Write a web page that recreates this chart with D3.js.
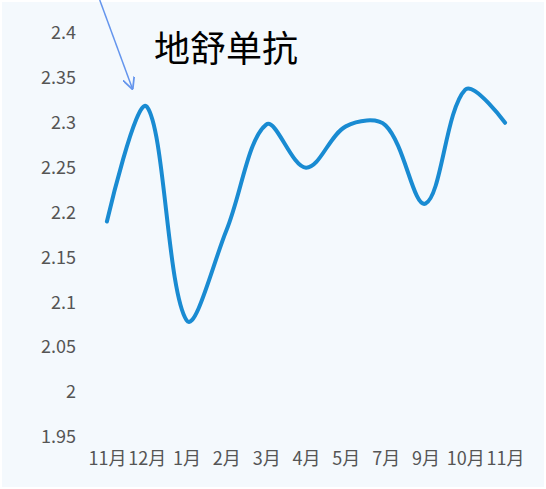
<!DOCTYPE html>
<html>
<head>
<meta charset="utf-8">
<script src="https://cdn.jsdelivr.net/npm/d3@7"></script>
<style>
  html, body { margin: 0; padding: 0; background: #fff; }
  svg { display: block; }
</style>
</head>
<body>
<div id="chart"></div>
<script>
const months = ["11月", "12月", "1月", "2月", "3月", "4月", "5月", "7月", "9月", "10月", "11月"];
const values = [2.19, 2.318, 2.08, 2.18, 2.298, 2.25, 2.296, 2.297, 2.21, 2.337, 2.30];
const yTicks = [1.95, 2, 2.05, 2.1, 2.15, 2.2, 2.25, 2.3, 2.35, 2.4];
const title = "地舒单抗";

const width = 546;
const height = 489;
const fontFamily = "'Noto Sans CJK SC', sans-serif";

const svg = d3.select("#chart")
  .append("svg")
  .attr("width", width)
  .attr("height", height);

svg.append("rect")
  .attr("x", 2)
  .attr("y", 2)
  .attr("width", width - 4)
  .attr("height", height - 4)
  .attr("fill", "#f4f9fd");

// index keys so the repeated "11月" stays two categories
const xScale = d3.scalePoint()
  .domain(d3.range(months.length))
  .range([87, 525])
  .padding(0.5);

const yScale = d3.scaleLinear()
  .domain([1.95, 2.4])
  .range([437, 33]);

const yAxis = svg.append("g")
  .attr("transform", "translate(76,0)")
  .call(d3.axisLeft(yScale).tickValues(yTicks).tickSize(0).tickPadding(0).tickFormat(d3.format("")));
yAxis.select(".domain").remove();
yAxis.selectAll("text")
  .attr("fill", "#555")
  .style("font-size", "18px")
  .style("font-family", fontFamily);

const xAxis = svg.append("g")
  .attr("transform", "translate(0,452)")
  .call(d3.axisBottom(xScale).tickSize(0).tickPadding(0).tickFormat((i) => months[i]));
xAxis.select(".domain").remove();
xAxis.selectAll("text")
  .attr("fill", "#555")
  .style("font-size", "18px")
  .style("font-family", fontFamily);

// spline through the points, tangent along (next - prev) split by the
// lengths of the two neighbouring segments
function smoothPath(pts, smooth) {
  const p = d3.path();
  let cpx0, cpy0;
  pts.forEach(([x, y], i) => {
    if (i === 0) {
      p.moveTo(x, y);
      cpx0 = x;
      cpy0 = y;
      return;
    }
    const [prevX, prevY] = pts[i - 1];
    let cpx1 = x, cpy1 = y, nextCpx0 = x, nextCpy0 = y;
    if (i < pts.length - 1) {
      const [nextX, nextY] = pts[i + 1];
      const vx = nextX - prevX;
      const vy = nextY - prevY;
      const lenPrev = Math.hypot(x - prevX, y - prevY);
      const lenNext = Math.hypot(nextX - x, nextY - y);
      const ratio = lenNext / (lenNext + lenPrev);
      cpx1 = x - vx * smooth * (1 - ratio);
      cpy1 = y - vy * smooth * (1 - ratio);
      nextCpx0 = x + vx * smooth * ratio;
      nextCpy0 = y + vy * smooth * ratio;
    }
    p.bezierCurveTo(cpx0, cpy0, cpx1, cpy1, x, y);
    cpx0 = nextCpx0;
    cpy0 = nextCpy0;
  });
  return p.toString();
}

const points = values.map((d, i) => [xScale(i), yScale(d)]);

svg.append("path")
  .attr("d", smoothPath(points, 0.35))
  .attr("fill", "none")
  .attr("stroke", "#198bd2")
  .attr("stroke-width", 4)
  .attr("stroke-linecap", "round")
  .attr("stroke-linejoin", "round");

// annotation arrow pointing at the December peak
svg.append("defs").append("marker")
  .attr("id", "arrow")
  .attr("viewBox", "0 0 10 10")
  .attr("refX", 10)
  .attr("refY", 5)
  .attr("markerWidth", 12)
  .attr("markerHeight", 12)
  .attr("markerUnits", "userSpaceOnUse")
  .attr("orient", "auto")
  .append("path")
  .attr("d", "M0,0 L10,5 L0,10")
  .attr("fill", "none")
  .attr("stroke", "#6495ed")
  .attr("stroke-width", 1.5);

svg.append("line")
  .attr("x1", xScale(1) - 47)
  .attr("y1", 0)
  .attr("x2", xScale(1) - 14)
  .attr("y2", yScale(2.337))
  .attr("stroke", "#6495ed")
  .attr("stroke-width", 1.5)
  .attr("marker-end", "url(#arrow)");

svg.append("text")
  .attr("x", 154)
  .attr("y", 62)
  .attr("fill", "#000")
  .style("font-size", "36px")
  .style("font-family", fontFamily)
  .text(title);
</script>
</body>
</html>
